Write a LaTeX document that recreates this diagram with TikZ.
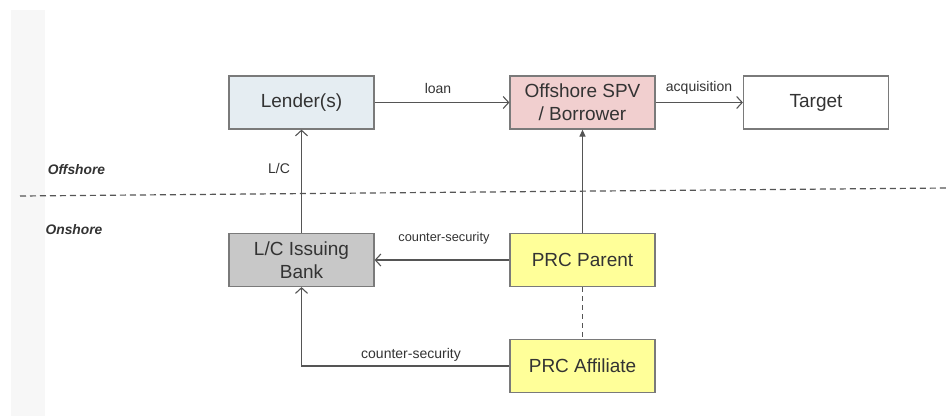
\documentclass[tikz,border=0pt]{standalone}
\usepackage{fontspec}
\setmainfont{Liberation Sans}
\usetikzlibrary{arrows.meta}
\definecolor{stripgrey}{HTML}{F7F7F7}
\definecolor{textgrey}{HTML}{333333}
\definecolor{linegrey}{HTML}{555555}
\definecolor{boxline}{HTML}{7A7A7A}
\definecolor{lenderfill}{HTML}{E5EDF2}
\definecolor{spvfill}{HTML}{F1CFCF}
\definecolor{bankfill}{HTML}{C8C8C8}
\definecolor{prcfill}{HTML}{FFFF99}
\tikzset{
  entity/.style={draw=boxline, line width=1.2pt, minimum width=145pt, minimum height=53pt,
    inner sep=0pt, align=center, text=textgrey, font=\fontsize{19}{23}\selectfont},
  flow/.style={draw=linegrey, line width=1.2pt, -{Straight Barb[length=5.5pt,width=12pt,line width=1.1pt]}},
  flowfill/.style={draw=linegrey, line width=1.2pt, -{Triangle[length=7pt,width=6pt]}},
  lbl/.style={text=textgrey, inner sep=0pt, font=\fontsize{14}{16}\selectfont},
  zone/.style={text=textgrey, inner sep=0pt, font=\fontsize{13.8}{16}\selectfont\bfseries\itshape},
}
\begin{document}
\begin{tikzpicture}[x=1pt,y=-1pt]
\useasboundingbox (0,0) rectangle (947,416);
\fill[white] (0,0) rectangle (947,416);
\fill[stripgrey] (11,10) rectangle (45,416);

% offshore / onshore divider
\draw[linegrey, line width=1.2pt, dash pattern=on 6pt off 4pt] (20,196) -- (947,188);
\node[zone] (offshore) at (76.5,170) {Offshore};
\node[zone] (onshore) at (74,230) {Onshore};

% parties
\node[entity, fill=lenderfill] (lender) at (301.5,102.5) {Lender(s)};
\node[entity, fill=spvfill] (spv) at (582.5,102.5) {Offshore SPV\\/ Borrower};
\node[entity, fill=white] (target) at (816,102.5) {Target};
\node[entity, fill=bankfill] (bank) at (301.5,260) {L/C Issuing\\Bank};
\node[entity, fill=prcfill] (parent) at (582.5,260) {PRC Parent};
\node[entity, fill=prcfill] (affiliate) at (582.5,366) {PRC Affiliate};

% flows
\draw[flow] (lender) -- (spv);
\draw[flow] (spv) -- (target);
\draw[flow] (bank) -- (lender);
\draw[flowfill] (parent) -- (spv);
\draw[flow] (parent) -- (bank);
\draw[flow] (affiliate.west) -| (bank.south);
\draw[draw=linegrey, line width=1.2pt, dash pattern=on 5pt off 4pt] (parent.south) -- (affiliate.north);

% flow labels
\node[lbl] (loanlbl) at (438,88) {loan};
\node[lbl] (acqlbl) at (699,88) {acquisition};
\node[lbl] (lclbl) at (279,168) {L/C};
\node[lbl, font=\fontsize{12.8}{15}\selectfont] (cs1) at (444,238) {counter-security};
\node[lbl] (cs2) at (411,355) {counter-security};
\end{tikzpicture}
\end{document}
